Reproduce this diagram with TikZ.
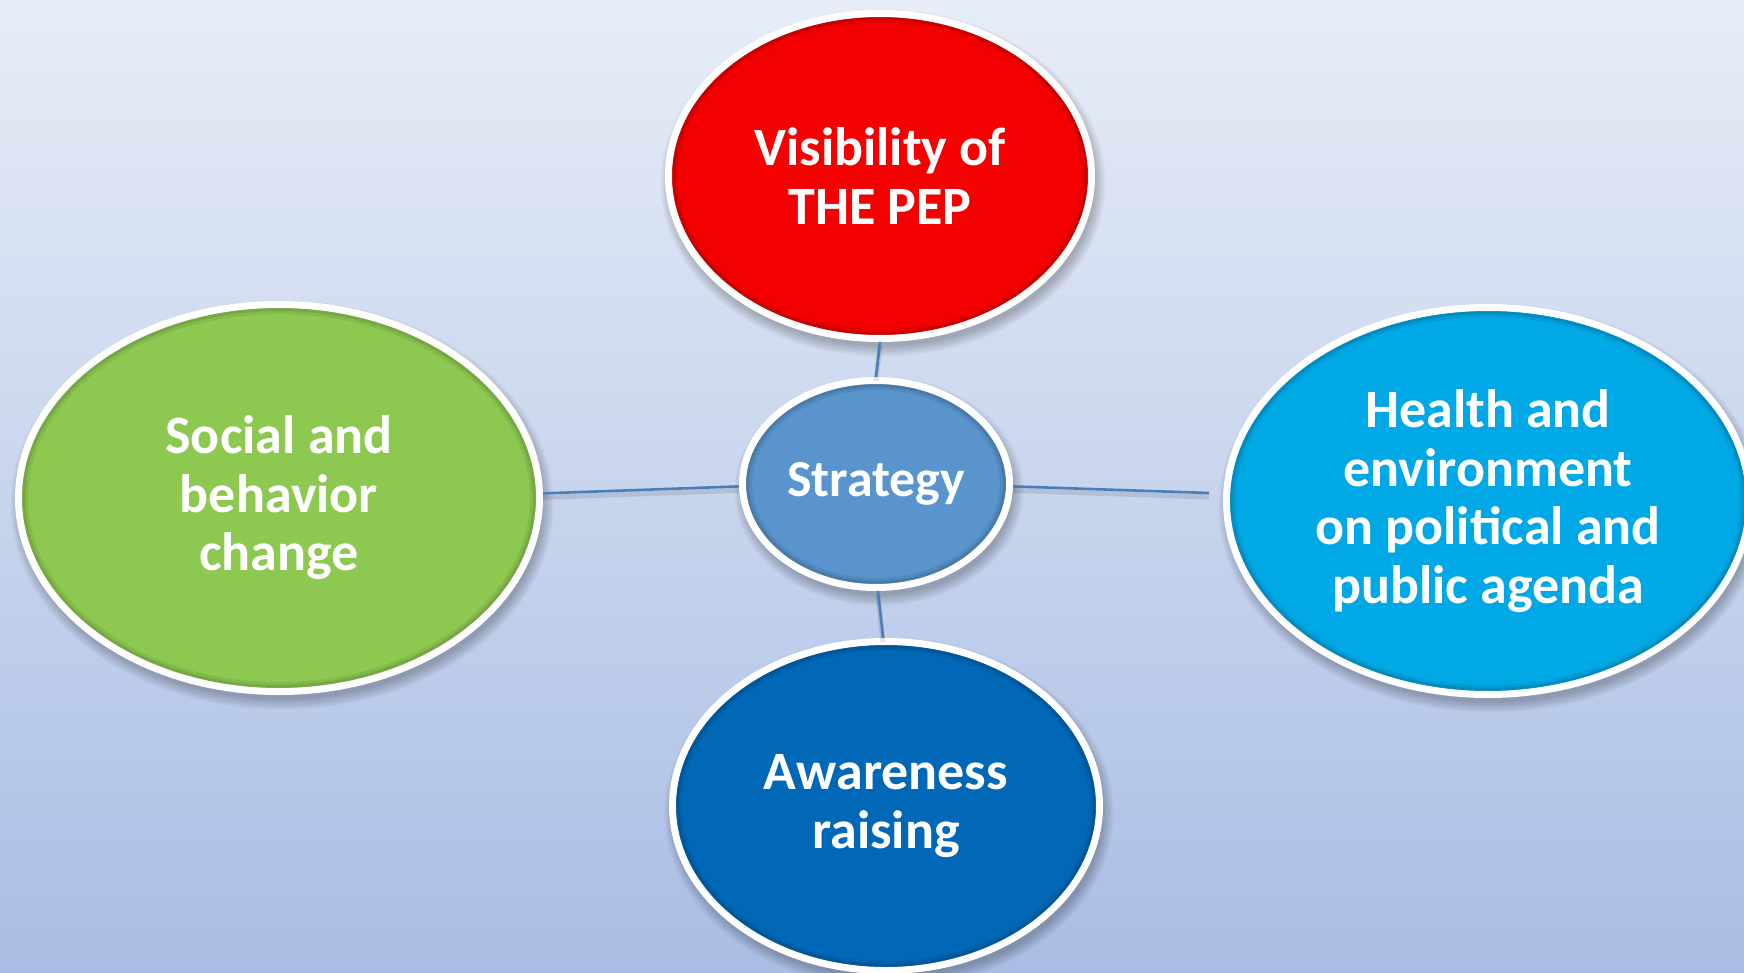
\documentclass[tikz,border=0pt]{standalone}
\usepackage{fontspec}
\setmainfont{Carlito}
\usetikzlibrary{shapes.geometric}
\definecolor{bgtop}{HTML}{E7EDF7}
\definecolor{bgbot}{HTML}{A9BDE4}
\definecolor{cred}{HTML}{F40000}
\definecolor{cgreen}{HTML}{8DC951}
\definecolor{ccyan}{HTML}{00A8E6}
\definecolor{cblue}{HTML}{0068B7}
\definecolor{cstrat}{HTML}{5994CC}
\definecolor{cline}{HTML}{4A7EBB}
\begin{document}
\begin{tikzpicture}[x=0.5pt,y=-0.5pt,
  bubble/.style={ellipse, draw=white, line width=3.5pt, inner sep=0pt, text=white,
    font=\fontsize{27}{29.3}\selectfont\bfseries, align=center},
  link/.style={draw=cline, line width=1.3pt,
    preaction={draw=black, opacity=0.10, line width=2.5pt, transform canvas={yshift=-2pt}}}]
\fill[top color=bgtop, bottom color=bgbot] (0,0) rectangle (1744,973);
\useasboundingbox (0,0) rectangle (1744,973);
% soft shadows
\foreach \cx/\cy/\rx/\ry in {880/176/215/166, 876/484/137/107, 279/498/264/197, 1488/501/265/197, 886/806/217/168}{
  \foreach \k in {0,...,7}{
    \fill[black, opacity=0.03] (\cx+3,\cy+7) ellipse [x radius={(\rx-3+\k*1.5)*0.5pt}, y radius={(\ry-3+\k*1.5)*0.5pt}];
  }
}
% bubbles
\node[bubble, fill=cred,   minimum width=211.5pt, minimum height=162.5pt] (vis) at (880,176) {Visibility of\\THE PEP};
\node[bubble, fill=cstrat, minimum width=133.5pt, minimum height=103.5pt, font=\fontsize{26}{29}\selectfont\bfseries] (strat) at (876,484) {Strategy};
\node[bubble, fill=cgreen, minimum width=260.5pt, minimum height=193.5pt] (soc) at (279,498) {Social and\\behavior\\change};
\node[bubble, fill=ccyan,  minimum width=261.5pt, minimum height=193.5pt] (hea) at (1488,501) {Health and\\environment\\on political and\\public agenda};
\node[bubble, fill=cblue,  minimum width=213.5pt, minimum height=164.5pt] (awa) at (886,806) {Awareness\\raising};
% bevel rims
\foreach \cx/\cy/\rx/\ry in {880/176/215/166, 876/484/137/107, 279/498/264/197, 1488/501/265/197, 886/806/217/168}{
  \draw[black, opacity=0.07, line width=3pt] (\cx,\cy) ellipse [x radius={(\rx-10)*0.5pt}, y radius={(\ry-10)*0.5pt}];
  \draw[black, opacity=0.10, line width=1.5pt] (\cx,\cy) ellipse [x radius={(\rx-8.5)*0.5pt}, y radius={(\ry-8.5)*0.5pt}];
}
% connectors
\coordinate (rend) at (1209,493);
\draw[link] (vis.south) -- (strat.north);
\draw[link] (soc.1.3) -- (strat.181.6);
\draw[link] (strat.-1.3) -- (rend);
\draw[link] (strat.-89) -- (awa.91);
\end{tikzpicture}
\end{document}
